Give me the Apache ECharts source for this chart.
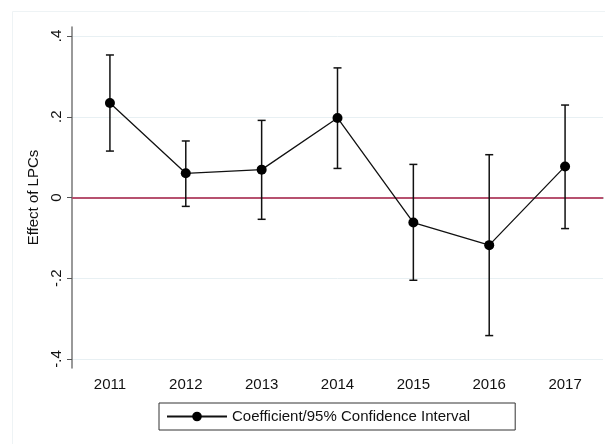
<!DOCTYPE html>
<html>
<head>
<meta charset="utf-8">
<script src="https://cdn.jsdelivr.net/npm/echarts@6/dist/echarts.min.js"></script>
<style>html,body{margin:0;padding:0;background:#fff}#c{width:605px;height:444px}</style>
</head>
<body>
<div id="c"></div>
<script>
const years = ['2011','2012','2013','2014','2015','2016','2017'];
const coef  = [0.234, 0.060, 0.069, 0.197, -0.062, -0.118, 0.077];
const ciLow = [0.115, -0.022, -0.054, 0.072, -0.205, -0.342, -0.077];
const ciHigh= [0.353, 0.140, 0.191, 0.321, 0.082, 0.106, 0.229];
const yTicks = [-0.4, -0.2, 0, 0.2, 0.4];
const legendLabel = 'Coefficient/95% Confidence Interval';

const FONT = 'Liberation Sans, Arial, Helvetica, sans-serif';
function fmt(v){
  if (Math.abs(v) < 1e-9) return '0';
  let s = (Math.round(v*10)/10).toString();
  return s.replace('0.', '.');
}
const chart = echarts.init(document.getElementById('c'), null, {renderer:'canvas'});
const errData = years.map((y,i)=>[i, ciLow[i], ciHigh[i]]);
chart.setOption({
  animation:false,
  backgroundColor:'#fff',
  graphic:[{type:'rect', shape:{x:12.5,y:11.5,width:600,height:440}, style:{fill:'none', stroke:'#eef3f5', lineWidth:1}, z:-10}],
  grid:{left:72, right:2, top:27, bottom:76},
  xAxis:{
    type:'category', data:years, boundaryGap:true,
    axisLine:{lineStyle:{color:'#777', width:1.5}},
    axisTick:{alignWithLabel:true, length:5, lineStyle:{color:'#555'}},
    axisLabel:{color:'#111', fontSize:15, fontFamily:FONT, margin:9},
    splitLine:{show:false}
  },
  yAxis:{
    type:'value', min:-0.4223, max:0.4223,
    axisLine:{show:true, lineStyle:{color:'#777', width:1.5}},
    axisTick:{show:true, length:5, customValues:yTicks, lineStyle:{color:'#555'}},
    axisLabel:{customValues:yTicks, rotate:90, color:'#111', fontSize:15, fontFamily:FONT, margin:8, formatter:fmt},
    splitLine:{show:false},
    name:'Effect of LPCs', nameLocation:'middle', nameRotate:90, nameGap:29,
    nameTextStyle:{color:'#111', fontSize:15, fontFamily:FONT}
  },
  legend:{
    left:159, top:403, orient:'horizontal',
    data:[legendLabel],
    itemWidth:60, itemHeight:12, itemGap:10,
    padding:[6,45,6,7],
    borderColor:'#333', borderWidth:1,
    textStyle:{color:'#111', fontSize:15, fontFamily:FONT}
  },
  series:[
    {
      type:'line', name:'grid', data:[], silent:true, z:0,
      markLine:{symbol:'none', silent:true, label:{show:false}, z:0,
        lineStyle:{color:'#e8f0f3', width:1, type:'solid'},
        data:[{yAxis:0.4},{yAxis:0.2},{yAxis:-0.2},{yAxis:-0.4}]}
    },
    {
      type:'line', name:'zero', data:[], silent:true, z:1,
      markLine:{symbol:'none', silent:true, label:{show:false}, z:1,
        lineStyle:{color:'#c23a62', width:1.5, type:'solid'},
        data:[{yAxis:0}]}
    },
    {
      type:'custom', name:'ci', data:errData, z:3,
      renderItem:function(params, api){
        const x = api.value(0);
        const lo = api.coord([x, api.value(1)]);
        const hi = api.coord([x, api.value(2)]);
        const hw = 4;
        const st = {stroke:'#111', lineWidth:1.5, fill:'none'};
        return {type:'group', children:[
          {type:'line', shape:{x1:lo[0], y1:lo[1], x2:hi[0], y2:hi[1]}, style:st},
          {type:'line', shape:{x1:lo[0]-hw, y1:lo[1], x2:lo[0]+hw, y2:lo[1]}, style:st},
          {type:'line', shape:{x1:hi[0]-hw, y1:hi[1], x2:hi[0]+hw, y2:hi[1]}, style:st}
        ]};
      }
    },
    {
      type:'line', name:legendLabel, data:coef, z:5,
      symbol:'circle', symbolSize:10,
      itemStyle:{color:'#000'},
      lineStyle:{color:'#111', width:1.3}
    }
  ]
});
</script>
</body>
</html>
